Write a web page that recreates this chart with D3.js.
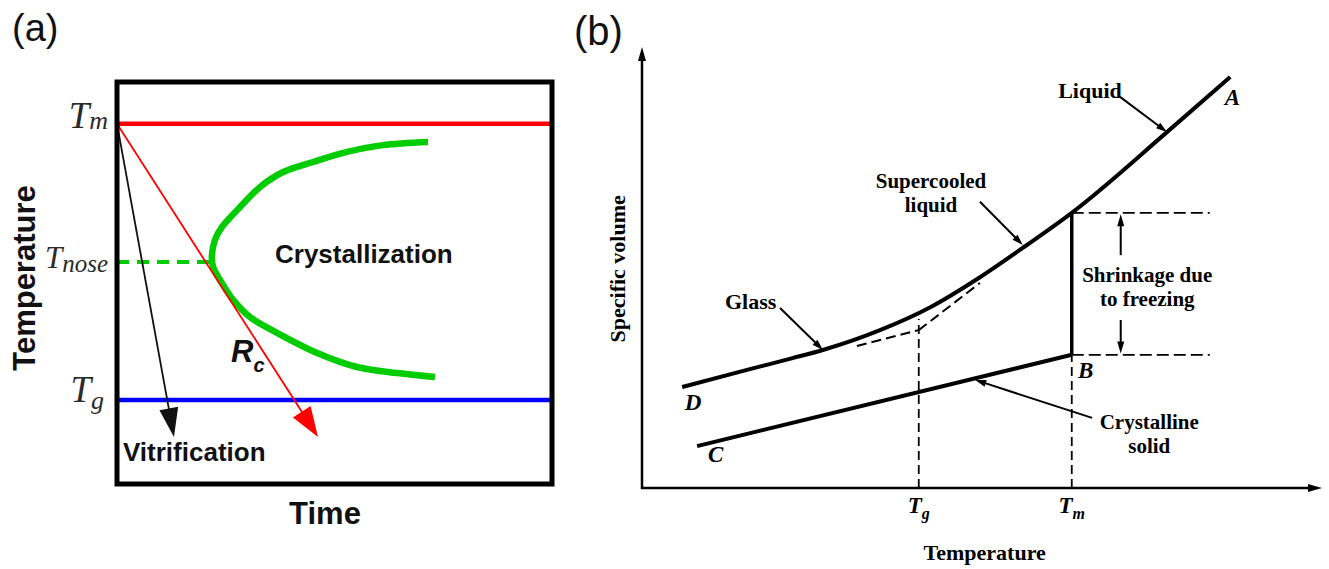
<!DOCTYPE html>
<html>
<head>
<meta charset="utf-8">
<script src="https://cdn.jsdelivr.net/npm/d3@7"></script>
<style>
  body { margin: 0; background: #fff; }
  svg { display: block; }
</style>
</head>
<body>
<svg id="fig" width="1329" height="569"></svg>
<script>
// ---------- Panel (a): time–temperature–transformation sketch ----------
const ttTimeDomain = [0, 100];
const ttTempDomain = [0, 100];
const meltTemp = 89.6;
const glassTemp = 20.9;
const noseTemp = 55.2;
const noseTime = 22.0;
const noseCurveTime = [71.5, 61.1, 52.9, 45.1, 38.2, 32.9, 28.3, 24.1, 22.5, 21.8, 22.1, 24.1, 26.7, 30.6, 36.8, 46.0, 55.2, 64.4, 73.1];
const noseCurveTemp = [85.1, 84.3, 82.6, 80.1, 77.6, 73.9, 68.9, 63.9, 60.7, 56.5, 54.0, 50.0, 45.8, 41.5, 37.6, 32.6, 29.1, 27.6, 26.6];
const criticalPathEnd = [46.2, 11.7];   // time, temperature at the R_c arrow tip
const quenchPathEnd = [13.1, 11.7];     // time, temperature at the vitrification arrow tip

// ---------- Panel (b): specific volume vs temperature ----------
const svTempDomain = [0, 100];
const svVolDomain = [0, 100];
const liquidTemp = [5.9, 16.0, 22.0, 26.6, 35.0, 42.4, 49.7, 56.6, 63.2, 77.2, 86.5];
const liquidVol = [22.9, 27.0, 29.4, 31.3, 35.8, 41.0, 47.8, 55.1, 62.4, 80.7, 93.2];
const crystalTemp = [8.1, 63.2];
const crystalVol = [9.5, 30.2];
const glassExtTemp = [31.6, 40.7];
const glassExtVol = [32.2, 35.8];
const liquidExtTemp = [40.7, 49.7];
const liquidExtVol = [35.8, 46.5];
const TgValue = 40.7;
const TmValue = 63.2;
const TgGuideTop = 38.3;
const shrinkTop = 62.4;
const shrinkBottom = 30.2;
const shrinkGuideEnd = 83.5;

const svg = d3.select("#fig");

// arrowhead as a filled triangle pointing from (x1,y1) toward (x2,y2)
function arrowHead(g, x1, y1, x2, y2, len, wid, color) {
  const dx = x2 - x1, dy = y2 - y1, d = Math.hypot(dx, dy);
  const ux = dx / d, uy = dy / d;
  const bx = x2 - ux * len, by = y2 - uy * len;
  const px = -uy * wid / 2, py = ux * wid / 2;
  g.append("path")
    .attr("d", `M${x2},${y2}L${bx + px},${by + py}L${bx - px},${by - py}Z`)
    .attr("fill", color);
}
function arrow(g, x1, y1, x2, y2, sw, len, wid, color) {
  const dx = x2 - x1, dy = y2 - y1, d = Math.hypot(dx, dy);
  g.append("line")
    .attr("x1", x1).attr("y1", y1)
    .attr("x2", x2 - dx / d * len * 0.8).attr("y2", y2 - dy / d * len * 0.8)
    .attr("stroke", color).attr("stroke-width", sw);
  arrowHead(g, x1, y1, x2, y2, len, wid, color);
}

// ======================= Panel (a) =======================
const ga = svg.append("g");
const xa = d3.scaleLinear().domain(ttTimeDomain).range([117, 552]);
const ya = d3.scaleLinear().domain(ttTempDomain).range([484, 82]);

ga.append("text").attr("x", 12).attr("y", 41)
  .attr("font-family", "Liberation Sans, Arial, sans-serif").attr("font-size", 38)
  .attr("fill", "#111").text("(a)");

// melting and glass-transition levels
ga.append("line").attr("x1", xa(0)).attr("x2", xa(100))
  .attr("y1", ya(meltTemp)).attr("y2", ya(meltTemp))
  .attr("stroke", "#ff0000").attr("stroke-width", 4.5);
ga.append("line").attr("x1", xa(0)).attr("x2", xa(100))
  .attr("y1", ya(glassTemp)).attr("y2", ya(glassTemp))
  .attr("stroke", "#0000ff").attr("stroke-width", 4.5);

// nose temperature guide
ga.append("line").attr("x1", xa(0)).attr("x2", xa(noseTime))
  .attr("y1", ya(noseTemp)).attr("y2", ya(noseTemp))
  .attr("stroke", "#00cc00").attr("stroke-width", 4)
  .attr("stroke-dasharray", "12,8");

// crystallization C-curve
const cLine = d3.line().x(i => xa(noseCurveTime[i])).y(i => ya(noseCurveTemp[i]))
  .curve(d3.curveCatmullRom.alpha(0.5));
ga.append("path").attr("d", cLine(d3.range(noseCurveTime.length)))
  .attr("fill", "none").attr("stroke", "#00cc00").attr("stroke-width", 6.5)
  .attr("stroke-linecap", "butt");

// cooling paths
arrow(ga, xa(0), ya(meltTemp), xa(criticalPathEnd[0]), ya(criticalPathEnd[1]), 1.8, 30, 21, "#ff0000");
arrow(ga, xa(0), ya(meltTemp), xa(quenchPathEnd[0]), ya(quenchPathEnd[1]), 1.8, 29, 19, "#111");

// frame
ga.append("rect").attr("x", xa(0)).attr("y", ya(100))
  .attr("width", xa(100) - xa(0)).attr("height", ya(0) - ya(100))
  .attr("fill", "none").attr("stroke", "#000").attr("stroke-width", 5);

const sansBold = "Liberation Sans, Arial, sans-serif";
ga.append("text").attr("x", 275).attr("y", 263)
  .attr("font-family", sansBold).attr("font-weight", "bold").attr("font-size", 26)
  .attr("fill", "#111").text("Crystallization");
ga.append("text").attr("x", 123).attr("y", 461)
  .attr("font-family", sansBold).attr("font-weight", "bold").attr("font-size", 26)
  .attr("fill", "#111").text("Vitrification");
ga.append("text").attr("x", 325).attr("y", 524)
  .attr("text-anchor", "middle")
  .attr("font-family", sansBold).attr("font-weight", "bold").attr("font-size", 31)
  .attr("fill", "#111").text("Time");
ga.append("text").attr("transform", "translate(35,278) rotate(-90)")
  .attr("text-anchor", "middle")
  .attr("font-family", sansBold).attr("font-weight", "bold").attr("font-size", 31)
  .attr("fill", "#111").text("Temperature");

const rc = ga.append("text").attr("x", 231).attr("y", 362)
  .attr("font-family", sansBold).attr("font-weight", "bold").attr("font-style", "italic")
  .attr("fill", "#111");
rc.append("tspan").attr("font-size", 31).text("R");
rc.append("tspan").attr("font-size", 20).attr("dy", 10).text("c");

function mathLabel(g, x, y, main, sub, mainSize, subSize, subDy) {
  const t = g.append("text").attr("x", x).attr("y", y)
    .attr("text-anchor", "end")
    .attr("font-family", "Liberation Serif, Times New Roman, serif")
    .attr("font-style", "italic").attr("fill", "#2a2a2a");
  t.append("tspan").attr("font-size", mainSize).text(main);
  t.append("tspan").attr("font-size", subSize).attr("dy", subDy).text(sub);
}
mathLabel(ga, 108, ya(meltTemp) + 4, "T", "m", 37, 26, 1);
mathLabel(ga, 108, ya(noseTemp) + 6, "T", "nose", 31, 25, 4);
mathLabel(ga, 104, ya(glassTemp) + 2, "T", "g", 37, 26, 7);

// ======================= Panel (b) =======================
const gb = svg.append("g");
const xb = d3.scaleLinear().domain(svTempDomain).range([642, 1322]);
const yb = d3.scaleLinear().domain(svVolDomain).range([488, 47]);

gb.append("text").attr("x", 574).attr("y", 45)
  .attr("font-family", "Liberation Sans, Arial, sans-serif").attr("font-size", 40)
  .attr("fill", "#111").text("(b)");

// axes with arrow tips
gb.append("line").attr("x1", xb(0)).attr("x2", xb(0))
  .attr("y1", yb(0) + 1).attr("y2", yb(100) + 10)
  .attr("stroke", "#000").attr("stroke-width", 2.5);
arrowHead(gb, xb(0), yb(0), xb(0), yb(100), 14, 8, "#000");
gb.append("line").attr("x1", xb(0) - 1).attr("x2", xb(100) - 10)
  .attr("y1", yb(0)).attr("y2", yb(0))
  .attr("stroke", "#000").attr("stroke-width", 2.5);
arrowHead(gb, xb(0), yb(0), xb(100), yb(0), 14, 8, "#000");

const dash = "9,5";
// Tg and Tm guides
gb.append("line").attr("x1", xb(TgValue)).attr("x2", xb(TgValue))
  .attr("y1", yb(0)).attr("y2", yb(TgGuideTop))
  .attr("stroke", "#000").attr("stroke-width", 1.8).attr("stroke-dasharray", dash);
gb.append("line").attr("x1", xb(TmValue)).attr("x2", xb(TmValue))
  .attr("y1", yb(0)).attr("y2", yb(shrinkBottom))
  .attr("stroke", "#000").attr("stroke-width", 1.8).attr("stroke-dasharray", dash);
// solidification step at Tm
gb.append("line").attr("x1", xb(TmValue)).attr("x2", xb(TmValue))
  .attr("y1", yb(shrinkBottom)).attr("y2", yb(shrinkTop))
  .attr("stroke", "#000").attr("stroke-width", 3.5);
// shrinkage guides
[shrinkTop, shrinkBottom].forEach(v => {
  gb.append("line").attr("x1", xb(TmValue)).attr("x2", xb(shrinkGuideEnd))
    .attr("y1", yb(v)).attr("y2", yb(v))
    .attr("stroke", "#000").attr("stroke-width", 1.8).attr("stroke-dasharray", "12,5");
});

// extrapolated dashed lines meeting at Tg
const straight = d3.line().x(d => xb(d[0])).y(d => yb(d[1]));
gb.append("path").attr("d", straight(d3.zip(glassExtTemp, glassExtVol)))
  .attr("fill", "none").attr("stroke", "#000").attr("stroke-width", 2).attr("stroke-dasharray", "10,5");
gb.append("path").attr("d", straight(d3.zip(liquidExtTemp, liquidExtVol)))
  .attr("fill", "none").attr("stroke", "#000").attr("stroke-width", 2).attr("stroke-dasharray", "10,5");

// glass / supercooled liquid / liquid curve
const curveLine = d3.line().x(d => xb(d[0])).y(d => yb(d[1])).curve(d3.curveMonotoneX);
gb.append("path").attr("d", curveLine(d3.zip(liquidTemp, liquidVol)))
  .attr("fill", "none").attr("stroke", "#000").attr("stroke-width", 4);
// crystalline solid
gb.append("path").attr("d", straight(d3.zip(crystalTemp, crystalVol)))
  .attr("fill", "none").attr("stroke", "#000").attr("stroke-width", 4);

// shrinkage double arrow
const shrinkX = 70.4;
arrow(gb, xb(shrinkX), yb(52.8), xb(shrinkX), yb(shrinkTop - 0.3), 2, 12, 7, "#000");
arrow(gb, xb(shrinkX), yb(38.1), xb(shrinkX), yb(shrinkBottom + 0.3), 2, 12, 7, "#000");

// leader arrows
const leaders = [
  [70.3, 88.7, 77.2, 80.7],
  [49.7, 64.9, 56.0, 55.1],
  [20.3, 40.8, 26.6, 31.3],
  [66.2, 15.9, 49.0, 24.5]
];
leaders.forEach(l => arrow(gb, xb(l[0]), yb(l[1]), xb(l[2]), yb(l[3]), 2, 11, 7, "#000"));

const serif = "Liberation Serif, Times New Roman, serif";
function sText(t, v, lines, anchor, opts = {}) {
  const txt = gb.append("text").attr("x", xb(t)).attr("y", yb(v))
    .attr("text-anchor", anchor)
    .attr("font-family", serif).attr("font-weight", "bold")
    .attr("font-size", opts.size || 22)
    .attr("font-style", opts.italic ? "italic" : "normal")
    .attr("fill", "#000");
  [].concat(lines).forEach((s, i) => {
    txt.append("tspan").attr("x", xb(t)).attr("dy", i === 0 ? 0 : (opts.lead || 24)).text(s);
  });
  return txt;
}
sText(61.2, 88.4, "Liquid", "start");
sText(85.7, 86.8, "A", "start", { italic: true, size: 23 });
sText(42.5, 68.0, ["Supercooled", "liquid"], "middle", { size: 21 });
sText(74.3, 46.7, ["Shrinkage due", "to freezing"], "middle", { size: 21 });
sText(12.2, 40.6, "Glass", "start");
sText(6.3, 17.7, "D", "start", { italic: true, size: 23 });
sText(9.7, 5.9, "C", "start", { italic: true, size: 23 });
sText(64.1, 24.9, "B", "start", { italic: true, size: 23 });
sText(74.6, 13.4, ["Crystalline", "solid"], "middle", { size: 21 });
sText(50.4, -16.3, "Temperature", "middle");

gb.append("text").attr("transform", `translate(625,${yb(49.7)}) rotate(-90)`)
  .attr("text-anchor", "middle")
  .attr("font-family", serif).attr("font-weight", "bold").attr("font-size", 22)
  .attr("fill", "#000").text("Specific volume");

function axisMark(t, sub) {
  const tx = gb.append("text").attr("x", xb(t)).attr("y", yb(0) + 25)
    .attr("text-anchor", "middle")
    .attr("font-family", serif).attr("font-weight", "bold").attr("font-style", "italic")
    .attr("fill", "#000");
  tx.append("tspan").attr("font-size", 23).text("T");
  tx.append("tspan").attr("font-size", 16).attr("dy", 6).text(sub);
}
axisMark(TgValue, "g");
axisMark(TmValue, "m");
</script>
</body>
</html>
